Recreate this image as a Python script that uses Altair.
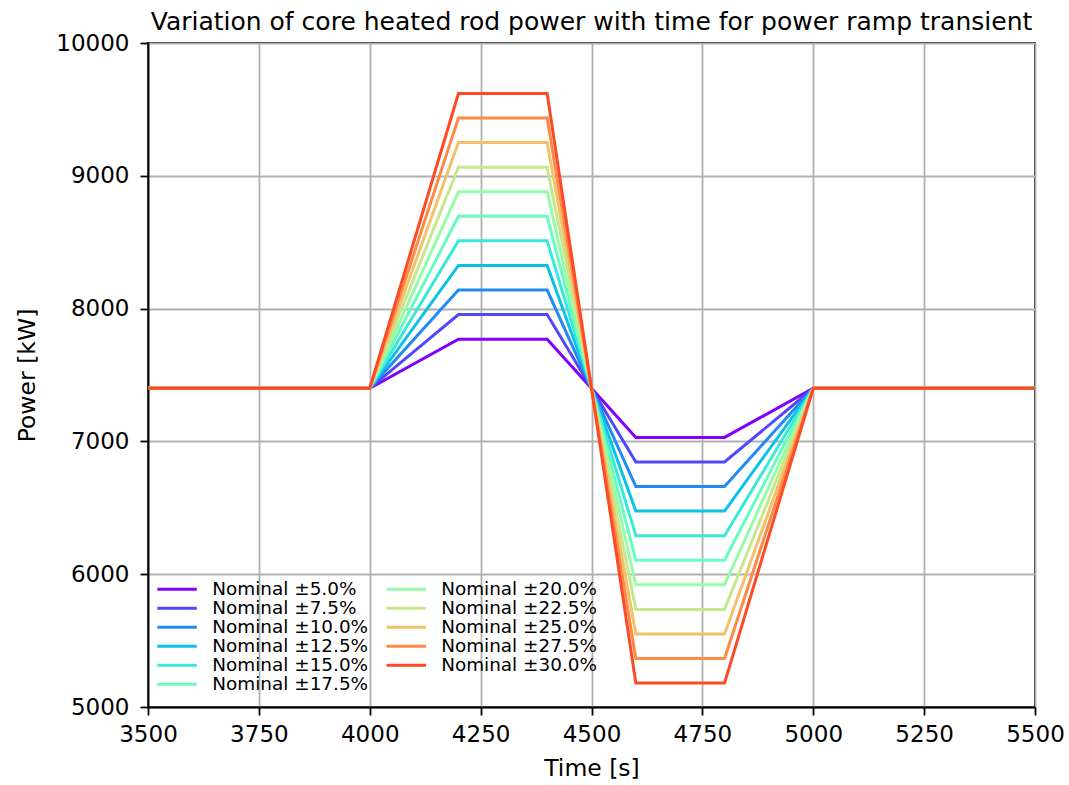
import altair as alt
import pandas as pd

# ---- data ----
pcts = [5.0, 7.5, 10.0, 12.5, 15.0, 17.5, 20.0, 22.5, 25.0, 27.5, 30.0]
labels = [f"Nominal \u00b1{p:.1f}%" for p in pcts]
nominal = 7400
high_levels = [7770, 7955, 8140, 8325, 8510, 8695, 8880, 9065, 9250, 9435, 9620]
low_levels = [7030, 6845, 6660, 6475, 6290, 6105, 5920, 5735, 5550, 5365, 5180]
times = [3500, 4000, 4200, 4400, 4500, 4600, 4800, 5000, 5500]

colors = ["#8000ff", "#5148fc", "#238af5", "#0cc1e8", "#3ae8d7", "#68fcc1",
          "#97fca7", "#c5e88a", "#f3c16a", "#ff8a48", "#ff4824"]

x_ticks = [3500, 3750, 4000, 4250, 4500, 4750, 5000, 5250, 5500]
y_ticks = [5000, 6000, 7000, 8000, 9000, 10000]

rows = []
for lab, hi, lo in zip(labels, high_levels, low_levels):
    powers = [nominal, nominal, hi, hi, nominal, lo, lo, nominal, nominal]
    for k, (t, pw) in enumerate(zip(times, powers)):
        rows.append({"series": lab, "time": t, "power": pw, "k": k})
df = pd.DataFrame(rows)

# legend layout (data coordinates of the in-plot legend, two columns)
leg_x1 = [3521, 4038]
leg_x2 = [3610, 4127]
leg_tx = [3645, 4161]
leg_y0 = 5886
leg_dy = 143
leg_rows = []
for i, lab in enumerate(labels):
    c, r = divmod(i, 6)
    leg_rows.append({"series": lab, "x1": leg_x1[c], "x2": leg_x2[c],
                     "tx": leg_tx[c], "y": leg_y0 - r * leg_dy})
leg = pd.DataFrame(leg_rows)

FONT = "DejaVu Sans"
color = alt.Color("series:N", scale=alt.Scale(domain=labels, range=colors), legend=None)
xscale = alt.Scale(domain=[3500, 5500], nice=False, zero=False)
yscale = alt.Scale(domain=[5000, 10000], nice=False, zero=False)

lines = alt.Chart(df).mark_line(strokeWidth=3).encode(
    x=alt.X("time:Q", scale=xscale, title="Time [s]",
            axis=alt.Axis(values=x_ticks, format="d", labelFlush=False, labelOverlap=False)),
    y=alt.Y("power:Q", scale=yscale, title="Power [kW]",
            axis=alt.Axis(values=y_ticks, format="d", labelFlush=False, labelOverlap=False)),
    color=color,
    order="k:Q",
)

leg_rules = alt.Chart(leg).mark_rule(strokeWidth=3).encode(
    x="x1:Q", x2="x2:Q", y="y:Q", color=color
)
leg_text = alt.Chart(leg).mark_text(
    align="left", baseline="middle", font=FONT, fontSize=18.4, color="black"
).encode(x="tx:Q", y="y:Q", text="series:N")

chart = alt.layer(lines, leg_rules, leg_text).properties(
    width=887, height=664,
    title=alt.TitleParams(
        "Variation of core heated rod power with time for power ramp transient",
        font=FONT, fontSize=25, fontWeight="normal", color="black",
        anchor="middle", offset=-3,
    ),
    autosize=alt.AutoSizeParams(type="none"),
    padding={"left": 148, "top": 43, "right": 34, "bottom": 78},
).configure_view(
    stroke="black", strokeWidth=1.8
).configure_axis(
    labelFont=FONT, titleFont=FONT, labelFontSize=23, titleFontSize=23.5,
    titleFontWeight="normal", labelColor="black", titleColor="black",
    domainColor="black", domainWidth=1.8, tickColor="black", tickWidth=1.8,
    tickSize=8, gridColor="#b0b0b0", gridWidth=1.8, gridOpacity=1,
).configure_axisX(
    labelPadding=8, titlePadding=10
).configure_axisY(
    labelPadding=11, titlePadding=16
)

chart.save("out.html", embed_options={"renderer": "svg", "actions": False})
